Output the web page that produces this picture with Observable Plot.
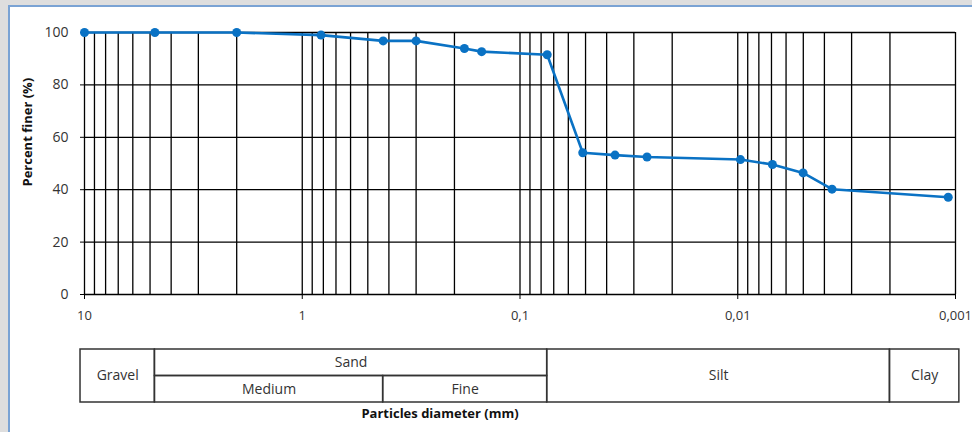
<!DOCTYPE html>
<html>
<head>
<meta charset="utf-8">
<script src="https://cdn.jsdelivr.net/npm/d3@7"></script>
<script src="https://cdn.jsdelivr.net/npm/@observablehq/plot@0.6"></script>
<style>
  html, body { margin: 0; padding: 0; }
  body { width: 972px; height: 432px; background: #dedede; position: relative; overflow: hidden; font-family: "Open Sans", sans-serif; }
  #card { position: absolute; left: 8px; top: 5px; right: 0; bottom: 0; background: #fff; border-left: 2px solid #7aa3d4; border-top: 2px solid #7aa3d4; }
  #main { position: absolute; left: 0; top: 0; }
  #table { position: absolute; left: 0; top: 330px; }
  svg { background: transparent !important; }
</style>
</head>
<body>
<div id="card"></div>
<div id="main"></div>
<div id="table"></div>
<script>
// ---- Data ----
const diameters = [10, 4.75, 2.0, 0.82, 0.425, 0.3, 0.18, 0.15, 0.075, 0.0515, 0.0366, 0.0261, 0.00972, 0.00693, 0.00501, 0.00369, 0.00108];
const percentFiner = [100, 100, 100, 99.0, 96.8, 96.8, 93.9, 92.7, 91.5, 54.1, 53.2, 52.5, 51.5, 49.6, 46.4, 40.2, 37.1];

const xMajor = [10, 1, 0.1, 0.01, 0.001];
const xTickLabels = ["10", "1", "0,1", "0,01", "0,001"];
const yTicks = [0, 20, 40, 60, 80, 100];

const cellLabels = ["Gravel", "Sand", "Medium", "Fine", "Silt", "Clay"];
const cellFrom   = [10.43, 4.75, 4.75, 0.425, 0.075, 0.002];
const cellTo     = [4.75, 0.075, 0.425, 0.075, 0.002, 0.00096];
const cellRowStart = [0, 0, 1, 1, 0, 0];
const cellRowEnd   = [2, 1, 2, 2, 2, 2];

const yTitle = "Percent finer (%)";
const xTitle = "Particles diameter (mm)";

// ---- Build tables ----
const data = diameters.map((d, i) => ({d, p: percentFiner[i]}));
const cells = cellLabels.map((label, i) => ({
  label, x1: cellFrom[i], x2: cellTo[i], y1: cellRowStart[i], y2: cellRowEnd[i],
  xm: Math.sqrt(cellFrom[i] * cellTo[i]), ym: (cellRowStart[i] + cellRowEnd[i]) / 2
}));

const xGrid = d3.scaleLog().domain([0.001, 10]).ticks();
const xScale = {type: "log", domain: [0.001, 10], reverse: true};
const common = {width: 972, marginLeft: 84, marginRight: 17};
const blue = "#0a72c4";

const main = Plot.plot({
  ...common,
  height: 330,
  marginTop: 32,
  marginBottom: 36,
  style: {fontFamily: "Open Sans, sans-serif", fontSize: "13px", color: "#222", background: "transparent"},
  x: xScale,
  y: {domain: [0, 100]},
  marks: [
    Plot.gridX(xGrid, {stroke: "#000", strokeOpacity: 1, strokeWidth: 1.3}),
    Plot.gridY(yTicks, {stroke: "#000", strokeOpacity: 1, strokeWidth: 1.3}),
    Plot.axisY(yTicks, {tickSize: 4, tickPadding: 12, label: null, stroke: "#000", fill: "#333", fontSize: 14}),
    Plot.axisX(xMajor, {tickSize: 5, tickPadding: 11, label: null, stroke: "#000", fill: "#333", fontSize: 13,
      tickFormat: d => xTickLabels[xMajor.indexOf(d)]}),
    Plot.line(data, {x: "d", y: "p", stroke: blue, strokeWidth: 2.6}),
    Plot.dot(data, {x: "d", y: "p", r: 4.5, fill: blue, stroke: "none"}),
    Plot.text([yTitle], {frameAnchor: "left", rotate: -90, dx: -57, dy: 23, fontWeight: "bold", fontSize: 13, fill: "#111", text: d => d})
  ]
});
document.getElementById("main").appendChild(main);

const table = Plot.plot({
  ...common,
  height: 102,
  marginTop: 19,
  marginBottom: 30,
  style: {fontFamily: "Open Sans, sans-serif", fontSize: "14px", color: "#222", background: "transparent"},
  x: {...xScale, axis: null},
  y: {domain: [0, 2], reverse: true, axis: null},
  marks: [
    Plot.rect(cells, {x1: "x1", x2: "x2", y1: "y1", y2: "y2", fill: "none", stroke: "#333", strokeWidth: 1.5}),
    Plot.text(cells, {x: "xm", y: "ym", text: "label", fill: "#333", fontSize: 14}),
    Plot.text([xTitle], {frameAnchor: "bottom", dx: -80, dy: 15, text: d => d, fontWeight: "bold", fontSize: 13, fill: "#111"})
  ]
});
document.getElementById("table").appendChild(table);
</script>
</body>
</html>
